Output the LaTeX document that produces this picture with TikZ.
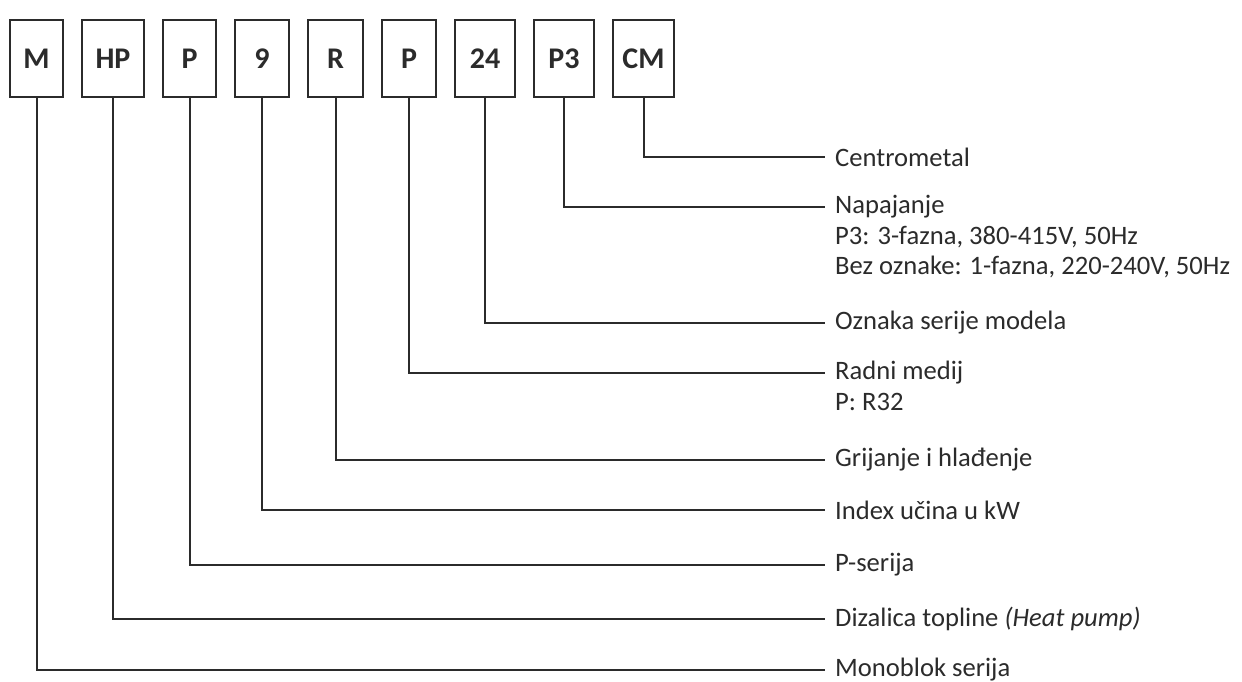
\documentclass[tikz,border=0pt]{standalone}
\usepackage{fontspec}
\setmainfont{Carlito}
\usetikzlibrary{positioning}
\definecolor{inkc}{HTML}{2B2B2B}
\begin{document}
\begin{tikzpicture}[x=1pt, y=-1pt]
  \tikzset{node distance=17pt,
    code/.style={draw=inkc, line width=2pt, text=inkc, minimum height=77pt, inner sep=0pt, font=\fontsize{30}{34}\selectfont\bfseries},
    desc/.style={anchor=west, inner sep=0pt, text=inkc, font=\fontsize{26.6}{30.5}\selectfont},
    more/.style={desc, anchor=base west, yshift=-30.5pt},
    lead/.style={draw=inkc, line width=2pt}}
  \useasboundingbox (0,0) rectangle (1242,682);
  \node[code, minimum width=53pt] (m) at (36.5,58.5) {M};
  \node[code, minimum width=62pt, right=of m] (hp) {HP};
  \node[code, minimum width=53pt, right=of hp] (p1) {P};
  \node[code, minimum width=54pt, right=of p1] (nine) {9};
  \node[code, minimum width=55pt, right=of nine] (r) {R};
  \node[code, minimum width=54pt, right=of r] (p2) {P};
  \node[code, minimum width=60pt, right=of p2] (tf) {24};
  \node[code, minimum width=60pt, right=of tf] (pt) {P3};
  \node[code, minimum width=61pt, right=of pt] (cm) {CM};
  \coordinate (ecm) at (825,157);
  \coordinate (ept) at (825,207);
  \coordinate (etf) at (825,323);
  \coordinate (ep2) at (825,373);
  \coordinate (er) at (825,460);
  \coordinate (enine) at (825,510);
  \coordinate (ep1) at (825,565);
  \coordinate (ehp) at (825,619);
  \coordinate (em) at (825,670);
  \node[desc, right=10pt of ecm] (lcm) {Centrometal};
  \node[desc, right=10pt of ept] (lpt) {Napajanje};
  \node[more] (lpt2) at (lpt.base west) {P3: 3-fazna, 380-415V, 50Hz};
  \node[more] (lpt3) at (lpt2.base west) {Bez oznake: 1-fazna, 220-240V, 50Hz};
  \node[desc, right=10pt of etf] (ltf) {Oznaka serije modela};
  \node[desc, right=10pt of ep2] (lp2) {Radni medij};
  \node[more] (lp22) at (lp2.base west) {P: R32};
  \node[desc, right=10pt of er] (lr) {Grijanje i hlađenje};
  \node[desc, right=10pt of enine] (lnine) {Index učina u kW};
  \node[desc, right=10pt of ep1] (lp1) {P-serija};
  \node[desc, right=10pt of ehp] (lhp) {Dizalica topline \textit{(Heat pump)}};
  \node[desc, right=10pt of em] (lm) {Monoblok serija};
  \draw[lead] (cm.south) |- (ecm);
  \draw[lead] (pt.south) |- (ept);
  \draw[lead] (tf.south) |- (etf);
  \draw[lead] (p2.south) |- (ep2);
  \draw[lead] (r.south) |- (er);
  \draw[lead] (nine.south) |- (enine);
  \draw[lead] (p1.south) |- (ep1);
  \draw[lead] (hp.south) |- (ehp);
  \draw[lead] (m.south) |- (em);
\end{tikzpicture}
\end{document}
